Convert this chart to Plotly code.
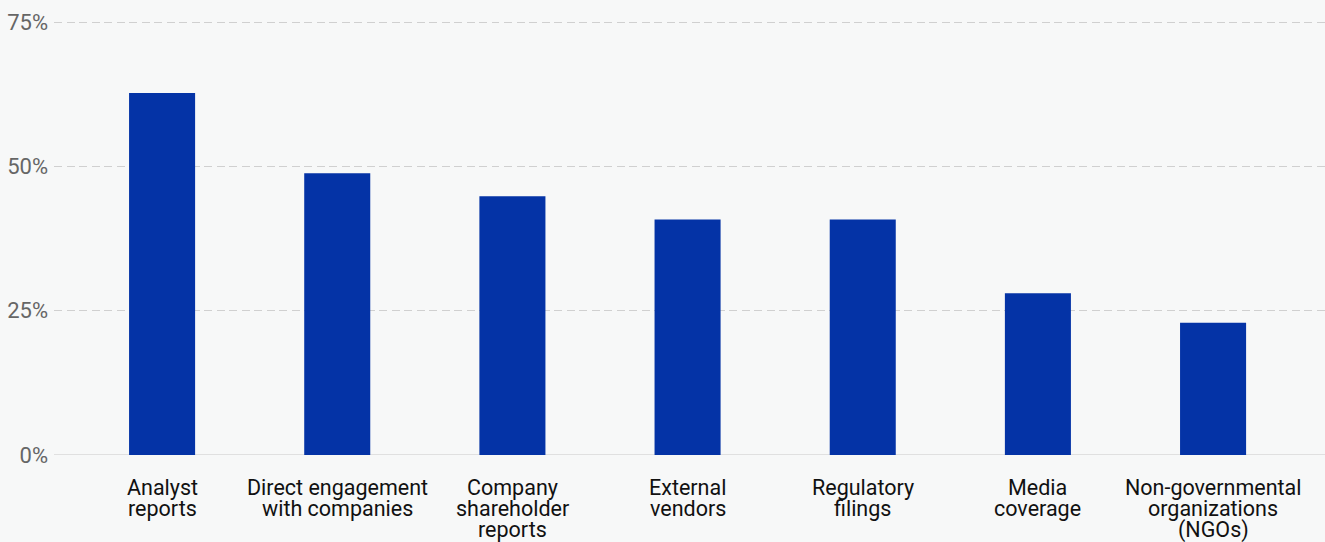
import plotly.graph_objects as go

# Share of respondents citing each information source
categories = [
    "Analyst\nreports",
    "Direct engagement\nwith companies",
    "Company\nshareholder\nreports",
    "External\nvendors",
    "Regulatory\nfilings",
    "Media\ncoverage",
    "Non-governmental\norganizations\n(NGOs)",
]
shares = [62.7, 48.8, 44.8, 40.8, 40.8, 28.0, 22.9]

y_ticks = [0, 25, 50, 75]
y_tick_labels = ["0%", "25%", "50%", "75%"]

BG = "#f7f8f8"
BAR = "#0433a6"
LABEL_SIZE = 21.5
LINE_STEP = 21      # px between wrapped category-label lines
FIRST_SHIFT = -18   # px from baseline to top of first label line

x_pos = list(range(len(categories)))

fig = go.Figure(
    go.Bar(
        x=x_pos,
        y=shares,
        marker=dict(color=BAR, line=dict(width=0)),
        width=0.377,
        hoverinfo="skip",
    )
)

fig.update_layout(
    width=1325,
    height=542,
    margin=dict(l=54, r=0, t=17, b=87),
    paper_bgcolor=BG,
    plot_bgcolor=BG,
    showlegend=False,
    font=dict(family="Roboto, sans-serif"),
    xaxis=dict(
        range=[-0.617, 6.639],
        showgrid=False,
        zeroline=False,
        showline=False,
        showticklabels=False,
        ticks="",
    ),
    yaxis=dict(
        range=[0, 75.868],
        tickmode="array",
        tickvals=y_ticks,
        ticktext=y_tick_labels,
        showgrid=True,
        gridcolor="#d0d0d0",
        griddash="8px,4.5px",
        gridwidth=1,
        zeroline=False,
        showline=False,
        ticks="",
        ticklabelstandoff=5,
        tickfont=dict(size=22, color="#666666"),
    ),
)

# Solid baseline at 0%
fig.add_shape(
    type="line", xref="paper", yref="y",
    x0=0, x1=1, y0=0, y1=0,
    line=dict(color="#c8c8c8", width=1),
    layer="below",
)

# Category labels, one annotation per wrapped line for tight line spacing
for xi, label in zip(x_pos, categories):
    for j, line in enumerate(label.split("\n")):
        fig.add_annotation(
            x=xi, y=0, xref="x", yref="y",
            text=line,
            showarrow=False,
            xanchor="center", yanchor="top",
            yshift=FIRST_SHIFT - LINE_STEP * j,
            font=dict(size=LABEL_SIZE, color="#111111", family="Roboto, sans-serif"),
        )

fig.write_html("out.html")
